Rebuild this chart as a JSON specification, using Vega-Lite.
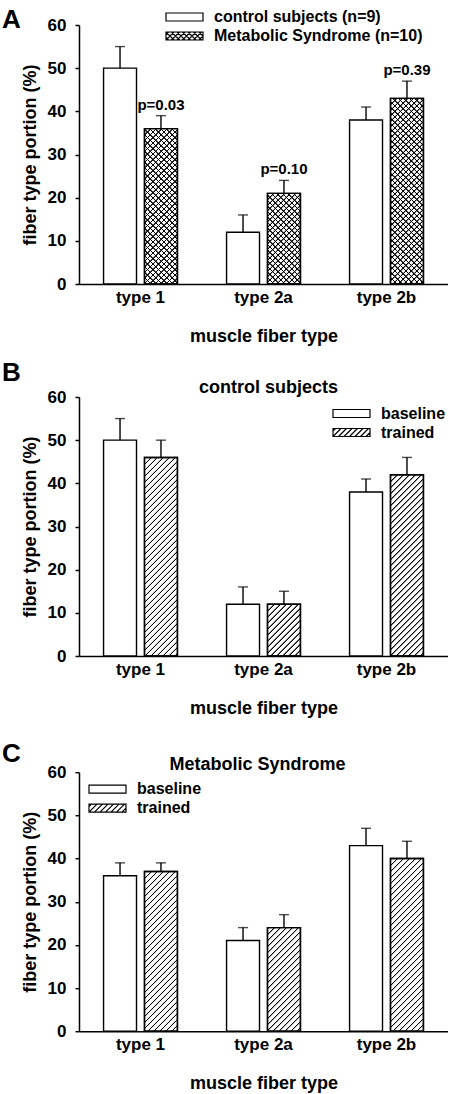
{
  "$schema": "https://vega.github.io/schema/vega-lite/v6.json",
  "background": "white",
  "padding": {"left": 2, "top": 6, "right": 0, "bottom": 0},
  "params": [
    {"name": "stripes", "value": [
      {"offset":0,"color":"#0000"},{"offset":0.002,"color":"#000"},{"offset":0.005,"color":"#000"},{"offset":0.007,"color":"#0000"},
      {"offset":0.02,"color":"#0000"},{"offset":0.022,"color":"#000"},{"offset":0.025,"color":"#000"},{"offset":0.027,"color":"#0000"},
      {"offset":0.04,"color":"#0000"},{"offset":0.042,"color":"#000"},{"offset":0.045,"color":"#000"},{"offset":0.047,"color":"#0000"},
      {"offset":0.06,"color":"#0000"},{"offset":0.062,"color":"#000"},{"offset":0.065,"color":"#000"},{"offset":0.067,"color":"#0000"},
      {"offset":0.08,"color":"#0000"},{"offset":0.082,"color":"#000"},{"offset":0.085,"color":"#000"},{"offset":0.087,"color":"#0000"},
      {"offset":0.1,"color":"#0000"},{"offset":0.102,"color":"#000"},{"offset":0.105,"color":"#000"},{"offset":0.107,"color":"#0000"},
      {"offset":0.12,"color":"#0000"},{"offset":0.122,"color":"#000"},{"offset":0.125,"color":"#000"},{"offset":0.127,"color":"#0000"},
      {"offset":0.14,"color":"#0000"},{"offset":0.142,"color":"#000"},{"offset":0.145,"color":"#000"},{"offset":0.147,"color":"#0000"},
      {"offset":0.16,"color":"#0000"},{"offset":0.162,"color":"#000"},{"offset":0.165,"color":"#000"},{"offset":0.167,"color":"#0000"},
      {"offset":0.18,"color":"#0000"},{"offset":0.182,"color":"#000"},{"offset":0.185,"color":"#000"},{"offset":0.187,"color":"#0000"},
      {"offset":0.2,"color":"#0000"},{"offset":0.202,"color":"#000"},{"offset":0.205,"color":"#000"},{"offset":0.207,"color":"#0000"},
      {"offset":0.22,"color":"#0000"},{"offset":0.222,"color":"#000"},{"offset":0.225,"color":"#000"},{"offset":0.227,"color":"#0000"},
      {"offset":0.24,"color":"#0000"},{"offset":0.242,"color":"#000"},{"offset":0.245,"color":"#000"},{"offset":0.247,"color":"#0000"},
      {"offset":0.26,"color":"#0000"},{"offset":0.262,"color":"#000"},{"offset":0.265,"color":"#000"},{"offset":0.267,"color":"#0000"},
      {"offset":0.28,"color":"#0000"},{"offset":0.282,"color":"#000"},{"offset":0.285,"color":"#000"},{"offset":0.287,"color":"#0000"},
      {"offset":0.3,"color":"#0000"},{"offset":0.302,"color":"#000"},{"offset":0.305,"color":"#000"},{"offset":0.307,"color":"#0000"},
      {"offset":0.32,"color":"#0000"},{"offset":0.322,"color":"#000"},{"offset":0.325,"color":"#000"},{"offset":0.327,"color":"#0000"},
      {"offset":0.34,"color":"#0000"},{"offset":0.342,"color":"#000"},{"offset":0.345,"color":"#000"},{"offset":0.347,"color":"#0000"},
      {"offset":0.36,"color":"#0000"},{"offset":0.362,"color":"#000"},{"offset":0.365,"color":"#000"},{"offset":0.367,"color":"#0000"},
      {"offset":0.38,"color":"#0000"},{"offset":0.382,"color":"#000"},{"offset":0.385,"color":"#000"},{"offset":0.387,"color":"#0000"},
      {"offset":0.4,"color":"#0000"},{"offset":0.402,"color":"#000"},{"offset":0.405,"color":"#000"},{"offset":0.407,"color":"#0000"},
      {"offset":0.42,"color":"#0000"},{"offset":0.422,"color":"#000"},{"offset":0.425,"color":"#000"},{"offset":0.427,"color":"#0000"},
      {"offset":0.44,"color":"#0000"},{"offset":0.442,"color":"#000"},{"offset":0.445,"color":"#000"},{"offset":0.447,"color":"#0000"},
      {"offset":0.46,"color":"#0000"},{"offset":0.462,"color":"#000"},{"offset":0.465,"color":"#000"},{"offset":0.467,"color":"#0000"},
      {"offset":0.48,"color":"#0000"},{"offset":0.482,"color":"#000"},{"offset":0.485,"color":"#000"},{"offset":0.487,"color":"#0000"},
      {"offset":0.5,"color":"#0000"},{"offset":0.502,"color":"#000"},{"offset":0.505,"color":"#000"},{"offset":0.507,"color":"#0000"},
      {"offset":0.52,"color":"#0000"},{"offset":0.522,"color":"#000"},{"offset":0.525,"color":"#000"},{"offset":0.527,"color":"#0000"},
      {"offset":0.54,"color":"#0000"},{"offset":0.542,"color":"#000"},{"offset":0.545,"color":"#000"},{"offset":0.547,"color":"#0000"},
      {"offset":0.56,"color":"#0000"},{"offset":0.562,"color":"#000"},{"offset":0.565,"color":"#000"},{"offset":0.567,"color":"#0000"},
      {"offset":0.58,"color":"#0000"},{"offset":0.582,"color":"#000"},{"offset":0.585,"color":"#000"},{"offset":0.587,"color":"#0000"},
      {"offset":0.6,"color":"#0000"},{"offset":0.602,"color":"#000"},{"offset":0.605,"color":"#000"},{"offset":0.607,"color":"#0000"},
      {"offset":0.62,"color":"#0000"},{"offset":0.622,"color":"#000"},{"offset":0.625,"color":"#000"},{"offset":0.627,"color":"#0000"},
      {"offset":0.64,"color":"#0000"},{"offset":0.642,"color":"#000"},{"offset":0.645,"color":"#000"},{"offset":0.647,"color":"#0000"},
      {"offset":0.66,"color":"#0000"},{"offset":0.662,"color":"#000"},{"offset":0.665,"color":"#000"},{"offset":0.667,"color":"#0000"},
      {"offset":0.68,"color":"#0000"},{"offset":0.682,"color":"#000"},{"offset":0.685,"color":"#000"},{"offset":0.687,"color":"#0000"},
      {"offset":0.7,"color":"#0000"},{"offset":0.702,"color":"#000"},{"offset":0.705,"color":"#000"},{"offset":0.707,"color":"#0000"},
      {"offset":0.72,"color":"#0000"},{"offset":0.722,"color":"#000"},{"offset":0.725,"color":"#000"},{"offset":0.727,"color":"#0000"},
      {"offset":0.74,"color":"#0000"},{"offset":0.742,"color":"#000"},{"offset":0.745,"color":"#000"},{"offset":0.747,"color":"#0000"},
      {"offset":0.76,"color":"#0000"},{"offset":0.762,"color":"#000"},{"offset":0.765,"color":"#000"},{"offset":0.767,"color":"#0000"},
      {"offset":0.78,"color":"#0000"},{"offset":0.782,"color":"#000"},{"offset":0.785,"color":"#000"},{"offset":0.787,"color":"#0000"},
      {"offset":0.8,"color":"#0000"},{"offset":0.802,"color":"#000"},{"offset":0.805,"color":"#000"},{"offset":0.807,"color":"#0000"},
      {"offset":0.82,"color":"#0000"},{"offset":0.822,"color":"#000"},{"offset":0.825,"color":"#000"},{"offset":0.827,"color":"#0000"},
      {"offset":0.84,"color":"#0000"},{"offset":0.842,"color":"#000"},{"offset":0.845,"color":"#000"},{"offset":0.847,"color":"#0000"},
      {"offset":0.86,"color":"#0000"},{"offset":0.862,"color":"#000"},{"offset":0.865,"color":"#000"},{"offset":0.867,"color":"#0000"},
      {"offset":0.88,"color":"#0000"},{"offset":0.882,"color":"#000"},{"offset":0.885,"color":"#000"},{"offset":0.887,"color":"#0000"},
      {"offset":0.9,"color":"#0000"},{"offset":0.902,"color":"#000"},{"offset":0.905,"color":"#000"},{"offset":0.907,"color":"#0000"},
      {"offset":0.92,"color":"#0000"},{"offset":0.922,"color":"#000"},{"offset":0.925,"color":"#000"},{"offset":0.927,"color":"#0000"},
      {"offset":0.94,"color":"#0000"},{"offset":0.942,"color":"#000"},{"offset":0.945,"color":"#000"},{"offset":0.947,"color":"#0000"},
      {"offset":0.96,"color":"#0000"},{"offset":0.962,"color":"#000"},{"offset":0.965,"color":"#000"},{"offset":0.967,"color":"#0000"},
      {"offset":0.98,"color":"#0000"},{"offset":0.982,"color":"#000"},{"offset":0.985,"color":"#000"},{"offset":0.987,"color":"#0000"}
    ]}
  ],
  "datasets": {
    "A": [
      {"type": "type 1", "group": "control subjects (n=9)", "value": 50, "upper": 55},
      {"type": "type 1", "group": "Metabolic Syndrome (n=10)", "value": 36, "upper": 39, "p": "p=0.03"},
      {"type": "type 2a", "group": "control subjects (n=9)", "value": 12, "upper": 16},
      {"type": "type 2a", "group": "Metabolic Syndrome (n=10)", "value": 21, "upper": 24, "p": "p=0.10"},
      {"type": "type 2b", "group": "control subjects (n=9)", "value": 38, "upper": 41},
      {"type": "type 2b", "group": "Metabolic Syndrome (n=10)", "value": 43, "upper": 47, "p": "p=0.39"}
    ],
    "B": [
      {"type": "type 1", "group": "baseline", "value": 50, "upper": 55},
      {"type": "type 1", "group": "trained", "value": 46, "upper": 50},
      {"type": "type 2a", "group": "baseline", "value": 12, "upper": 16},
      {"type": "type 2a", "group": "trained", "value": 12, "upper": 15},
      {"type": "type 2b", "group": "baseline", "value": 38, "upper": 41},
      {"type": "type 2b", "group": "trained", "value": 42, "upper": 46}
    ],
    "C": [
      {"type": "type 1", "group": "baseline", "value": 36, "upper": 39},
      {"type": "type 1", "group": "trained", "value": 37, "upper": 39},
      {"type": "type 2a", "group": "baseline", "value": 21, "upper": 24},
      {"type": "type 2a", "group": "trained", "value": 24, "upper": 27},
      {"type": "type 2b", "group": "baseline", "value": 43, "upper": 47},
      {"type": "type 2b", "group": "trained", "value": 40, "upper": 44}
    ]
  },
  "spacing": 15,
  "resolve": {"scale": {"xOffset": "independent", "shape": "independent"}, "legend": {"shape": "independent"}},
  "vconcat": [
    {
      "title": {"text": "A", "anchor": "start", "frame": "group", "fontSize": 26, "dx": -77, "offset": -27},
      "resolve": {"scale": {"xOffset": "independent", "shape": "independent"}, "legend": {"shape": "independent"}},
      "vconcat": [
        {
          "data": {"name": "A"},
          "width": 369,
          "height": 259,
          "layer": [
            {
              "mark": {"type": "bar", "fill": "white", "stroke": "black", "strokeWidth": 1.4},
              "encoding": {
                "x": {"field": "type", "type": "nominal", "title": "muscle fiber type", "scale": {"paddingInner": 0, "paddingOuter": 0}},
                "xOffset": {"field": "group", "scale": {"domain": ["control subjects (n=9)", "Metabolic Syndrome (n=10)"], "paddingInner": 0.195, "paddingOuter": 0.6}},
                "y": {"field": "value", "type": "quantitative", "stack": null, "title": "fiber type portion (%)", "scale": {"domain": [0, 60], "nice": false}, "axis": {"values": [0, 10, 20, 30, 40, 50, 60]}}
              }
            },
            {
              "transform": [{"filter": "datum.group === 'Metabolic Syndrome (n=10)'"}],
              "mark": {"type": "bar", "stroke": null, "fill": {"expr": "{gradient: 'linear', x1: 0, y1: 0, x2: 9075/(1089+pow(datum.value*4.3167,2)), y2: 1187.1*datum.value/(1089+pow(datum.value*4.3167,2)), stops: stripes}"}},
              "encoding": {
                "x": {"field": "type", "type": "nominal", "title": "muscle fiber type"},
                "xOffset": {"field": "group"},
                "y": {"field": "value", "type": "quantitative", "stack": null, "title": "fiber type portion (%)"}
              }
            },
            {
              "transform": [{"filter": "datum.group === 'Metabolic Syndrome (n=10)'"}],
              "mark": {"type": "bar", "stroke": "black", "strokeWidth": 1.4, "fill": {"expr": "{gradient: 'linear', x1: 0, y1: 1, x2: 9075/(1089+pow(datum.value*4.3167,2)), y2: 1-1187.1*datum.value/(1089+pow(datum.value*4.3167,2)), stops: stripes}"}},
              "encoding": {
                "x": {"field": "type", "type": "nominal", "title": "muscle fiber type"},
                "xOffset": {"field": "group"},
                "y": {"field": "value", "type": "quantitative", "stack": null, "title": "fiber type portion (%)"}
              }
            },
            {
              "mark": {"type": "rule", "stroke": "black", "strokeWidth": 1.4},
              "encoding": {
                "x": {"field": "type", "type": "nominal", "title": "muscle fiber type"},
                "xOffset": {"field": "group"},
                "y": {"field": "value", "type": "quantitative", "title": "fiber type portion (%)"},
                "y2": {"field": "upper"}
              }
            },
            {
              "mark": {"type": "tick", "orient": "horizontal", "size": 10, "thickness": 1.4, "color": "black"},
              "encoding": {
                "x": {"field": "type", "type": "nominal", "title": "muscle fiber type"},
                "xOffset": {"field": "group"},
                "y": {"field": "upper", "type": "quantitative", "title": "fiber type portion (%)"}
              }
            },
            {
              "transform": [{"filter": "datum.p"}],
              "mark": {"type": "text", "font": "Liberation Sans", "fontWeight": "bold", "fontSize": 15, "baseline": "alphabetic", "dy": -6, "color": "black"},
              "encoding": {
                "x": {"field": "type", "type": "nominal", "title": "muscle fiber type"},
                "xOffset": {"field": "group"},
                "y": {"field": "upper", "type": "quantitative", "title": "fiber type portion (%)"},
                "text": {"field": "p"}
              }
            },
            {
              "mark": {"type": "point", "clip": true},
              "encoding": {
                "x": {"field": "type", "type": "nominal", "title": "muscle fiber type"},
                "xOffset": {"field": "group"},
                "y": {"datum": -50, "type": "quantitative", "title": "fiber type portion (%)"},
                "shape": {
                  "field": "group", "type": "nominal",
                  "scale": {"domain": ["control subjects (n=9)", "Metabolic Syndrome (n=10)"], "range": [
                    "M-1.85,-0.4H1.85V0.4H-1.85Z",
                    "M-1.85,-0.4H1.85V0.4H-1.85Z M-1.85,-0.15L-1.6,-0.4 M-1.85,0.4L-1.05,-0.4 M-1.3,0.4L-0.5,-0.4 M-0.75,0.4L0.05,-0.4 M-0.2,0.4L0.6,-0.4 M0.35,0.4L1.15,-0.4 M0.9,0.4L1.7,-0.4 M1.45,0.4L1.85,0 M-1.85,0.15L-1.6,0.4 M-1.85,-0.4L-1.05,0.4 M-1.3,-0.4L-0.5,0.4 M-0.75,-0.4L0.05,0.4 M-0.2,-0.4L0.6,0.4 M0.35,-0.4L1.15,0.4 M0.9,-0.4L1.7,0.4 M1.45,-0.4L1.85,0"
                  ]},
                  "legend": {"title": null, "orient": "none", "legendX": 94.5, "legendY": -19}
                }
              }
            }
          ]
        }
      ]
    },
    {
      "spacing": 23.2,
      "resolve": {"scale": {"xOffset": "independent", "shape": "independent"}, "legend": {"shape": "independent"}},
      "vconcat": [
        {
          "title": {"text": "B", "anchor": "start", "frame": "group", "fontSize": 26, "dx": -77, "offset": -7},
          "resolve": {"scale": {"xOffset": "independent", "shape": "independent"}, "legend": {"shape": "independent"}},
          "vconcat": [
            {
              "data": {"name": "B"},
              "width": 369,
              "height": 259,
              "title": {"text": "control subjects", "anchor": "middle", "frame": "group", "fontSize": 18, "dx": 5, "offset": -9.3},
              "layer": [
                {
                  "mark": {"type": "bar", "fill": "white", "stroke": "black", "strokeWidth": 1.4},
                  "encoding": {
                    "x": {"field": "type", "type": "nominal", "title": "muscle fiber type", "scale": {"paddingInner": 0, "paddingOuter": 0}},
                    "xOffset": {"field": "group", "scale": {"domain": ["baseline", "trained"], "paddingInner": 0.195, "paddingOuter": 0.6}},
                    "y": {"field": "value", "type": "quantitative", "stack": null, "title": "fiber type portion (%)", "scale": {"domain": [0, 60], "nice": false}, "axis": {"values": [0, 10, 20, 30, 40, 50, 60]}}
                  }
                },
                {
                  "transform": [{"filter": "datum.group === 'trained'"}],
                  "mark": {"type": "bar", "stroke": "black", "strokeWidth": 1.4, "fill": {"expr": "{gradient: 'linear', x1: 0, y1: 0, x2: 9900/(1089+pow(datum.value*4.3167,2)), y2: 1295*datum.value/(1089+pow(datum.value*4.3167,2)), stops: stripes}"}},
                  "encoding": {
                    "x": {"field": "type", "type": "nominal", "title": "muscle fiber type"},
                    "xOffset": {"field": "group"},
                    "y": {"field": "value", "type": "quantitative", "stack": null, "title": "fiber type portion (%)"}
                  }
                },
                {
                  "mark": {"type": "rule", "stroke": "black", "strokeWidth": 1.4},
                  "encoding": {
                    "x": {"field": "type", "type": "nominal", "title": "muscle fiber type"},
                    "xOffset": {"field": "group"},
                    "y": {"field": "value", "type": "quantitative", "title": "fiber type portion (%)"},
                    "y2": {"field": "upper"}
                  }
                },
                {
                  "mark": {"type": "tick", "orient": "horizontal", "size": 10, "thickness": 1.4, "color": "black"},
                  "encoding": {
                    "x": {"field": "type", "type": "nominal", "title": "muscle fiber type"},
                    "xOffset": {"field": "group"},
                    "y": {"field": "upper", "type": "quantitative", "title": "fiber type portion (%)"}
                  }
                },
                {
                  "mark": {"type": "point", "clip": true},
                  "encoding": {
                    "x": {"field": "type", "type": "nominal", "title": "muscle fiber type"},
                    "xOffset": {"field": "group"},
                    "y": {"datum": -50, "type": "quantitative", "title": "fiber type portion (%)"},
                    "shape": {
                      "field": "group", "type": "nominal",
                      "scale": {"domain": ["baseline", "trained"], "range": [
                        "M-1.85,-0.4H1.85V0.4H-1.85Z",
                        "M-1.85,-0.4H1.85V0.4H-1.85Z M-1.85,-0.15L-1.6,-0.4 M-1.85,0.4L-1.05,-0.4 M-1.3,0.4L-0.5,-0.4 M-0.75,0.4L0.05,-0.4 M-0.2,0.4L0.6,-0.4 M0.35,0.4L1.15,-0.4 M0.9,0.4L1.7,-0.4 M1.45,0.4L1.85,0"
                      ]},
                      "legend": {"title": null, "orient": "none", "legendX": 261.5, "legendY": 5.5}
                    }
                  }
                }
              ]
            }
          ]
        },
        {
          "title": {"text": "C", "anchor": "start", "frame": "group", "fontSize": 26, "dx": -77, "offset": -10.7},
          "resolve": {"scale": {"xOffset": "independent", "shape": "independent"}, "legend": {"shape": "independent"}},
          "vconcat": [
            {
              "data": {"name": "C"},
              "width": 369,
              "height": 259,
              "title": {"text": "Metabolic Syndrome", "anchor": "middle", "frame": "group", "fontSize": 18, "dx": -6, "offset": -11},
              "layer": [
                {
                  "mark": {"type": "bar", "fill": "white", "stroke": "black", "strokeWidth": 1.4},
                  "encoding": {
                    "x": {"field": "type", "type": "nominal", "title": "muscle fiber type", "scale": {"paddingInner": 0, "paddingOuter": 0}},
                    "xOffset": {"field": "group", "scale": {"domain": ["baseline", "trained"], "paddingInner": 0.195, "paddingOuter": 0.6}},
                    "y": {"field": "value", "type": "quantitative", "stack": null, "title": "fiber type portion (%)", "scale": {"domain": [0, 60], "nice": false}, "axis": {"values": [0, 10, 20, 30, 40, 50, 60]}}
                  }
                },
                {
                  "transform": [{"filter": "datum.group === 'trained'"}],
                  "mark": {"type": "bar", "stroke": "black", "strokeWidth": 1.4, "fill": {"expr": "{gradient: 'linear', x1: 0, y1: 0, x2: 9900/(1089+pow(datum.value*4.3167,2)), y2: 1295*datum.value/(1089+pow(datum.value*4.3167,2)), stops: stripes}"}},
                  "encoding": {
                    "x": {"field": "type", "type": "nominal", "title": "muscle fiber type"},
                    "xOffset": {"field": "group"},
                    "y": {"field": "value", "type": "quantitative", "stack": null, "title": "fiber type portion (%)"}
                  }
                },
                {
                  "mark": {"type": "rule", "stroke": "black", "strokeWidth": 1.4},
                  "encoding": {
                    "x": {"field": "type", "type": "nominal", "title": "muscle fiber type"},
                    "xOffset": {"field": "group"},
                    "y": {"field": "value", "type": "quantitative", "title": "fiber type portion (%)"},
                    "y2": {"field": "upper"}
                  }
                },
                {
                  "mark": {"type": "tick", "orient": "horizontal", "size": 10, "thickness": 1.4, "color": "black"},
                  "encoding": {
                    "x": {"field": "type", "type": "nominal", "title": "muscle fiber type"},
                    "xOffset": {"field": "group"},
                    "y": {"field": "upper", "type": "quantitative", "title": "fiber type portion (%)"}
                  }
                },
                {
                  "mark": {"type": "point", "clip": true},
                  "encoding": {
                    "x": {"field": "type", "type": "nominal", "title": "muscle fiber type"},
                    "xOffset": {"field": "group"},
                    "y": {"datum": -50, "type": "quantitative", "title": "fiber type portion (%)"},
                    "shape": {
                      "field": "group", "type": "nominal",
                      "scale": {"domain": ["baseline", "trained"], "range": [
                        "M-1.85,-0.4H1.85V0.4H-1.85Z",
                        "M-1.85,-0.4H1.85V0.4H-1.85Z M-1.85,-0.15L-1.6,-0.4 M-1.85,0.4L-1.05,-0.4 M-1.3,0.4L-0.5,-0.4 M-0.75,0.4L0.05,-0.4 M-0.2,0.4L0.6,-0.4 M0.35,0.4L1.15,-0.4 M0.9,0.4L1.7,-0.4 M1.45,0.4L1.85,0"
                      ]},
                      "legend": {"title": null, "orient": "none", "legendX": 17.5, "legendY": 6}
                    }
                  }
                }
              ]
            }
          ]
        }
      ]
    }
  ],
  "config": {
    "view": {"stroke": null},
    "font": "Liberation Sans",
    "title": {"font": "Liberation Sans", "fontWeight": "bold", "color": "black", "baseline": "alphabetic"},
    "axis": {"grid": false, "domainColor": "black", "domainWidth": 1.5, "tickColor": "black", "tickWidth": 1.5, "labelFont": "Liberation Sans", "labelFontSize": 17, "labelFontWeight": "bold", "labelColor": "black", "titleFont": "Liberation Sans", "titleFontSize": 18, "titleFontWeight": "bold", "titleColor": "black"},
    "axisX": {"ticks": false, "labelAngle": 0, "labelPadding": 5, "titlePadding": 22},
    "axisY": {"tickSize": 4, "labelPadding": 9, "titlePadding": 8},
    "legend": {"labelFont": "Liberation Sans", "labelFontSize": 16, "labelFontWeight": "bold", "labelColor": "black", "labelLimit": 0, "symbolSize": 400, "symbolStrokeWidth": 1.2, "symbolStrokeColor": "black", "symbolOpacity": 1, "labelOffset": 18.5, "rowPadding": 0}
  }
}
